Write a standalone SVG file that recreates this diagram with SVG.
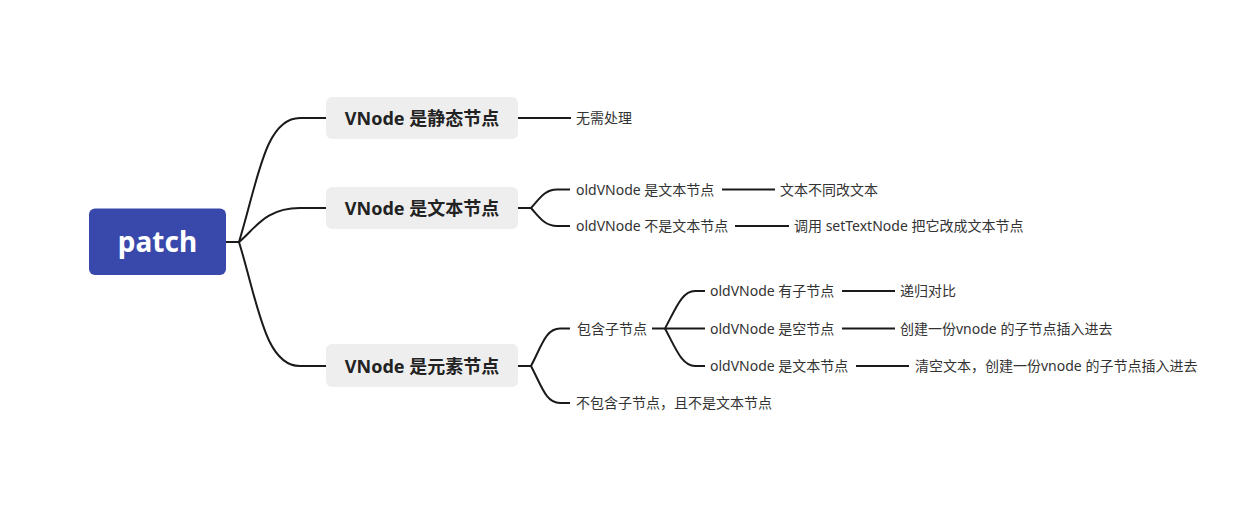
<svg xmlns="http://www.w3.org/2000/svg" width="1234" height="520" viewBox="0 0 1234 520">
<style>
.c{fill:none;stroke:#1a1a1a;stroke-width:2}
.t{font-family:"Noto Sans","Noto Sans CJK SC",sans-serif;font-size:14px;fill:#333}
.b{font-family:"Noto Sans","Noto Sans CJK SC",sans-serif;font-size:18px;font-weight:bold;fill:#222;text-anchor:middle}
.bx{fill:#eeeeee}
</style>
<rect width="1234" height="520" fill="#ffffff"/>
<g id="connectors">
<path class="c" d="M226,242 H239 C258,180 265,118 300,118 H326"/>
<path class="c" d="M239,242 C255,229 265,208 300,208 H326"/>
<path class="c" d="M239,242 C258,304 265,366 300,366 H326"/>
<path class="c" d="M518,118 H571"/>
<path class="c" d="M518,208 H531 C540,198 545,189.5 557,189.5 H570"/>
<path class="c" d="M531,208 C540,218 545,226 557,226 H570"/>
<path class="c" d="M722,189.5 H775"/>
<path class="c" d="M735,226 H789"/>
<path class="c" d="M518,366 H531 C542,345 546,328.5 560,328.5 H570"/>
<path class="c" d="M531,366 C542,387 546,403 560,403 H570"/>
<path class="c" d="M652,328.5 H665 C676,308 682,291 695,291 H705"/>
<path class="c" d="M665,328.5 H705"/>
<path class="c" d="M665,328.5 C676,349 682,366 695,366 H705"/>
<path class="c" d="M842,291 H895"/>
<path class="c" d="M842,328.5 H895"/>
<path class="c" d="M856,366 H909"/>
</g>
<g id="root">
<rect x="89" y="208.5" width="137" height="66.5" rx="6" fill="#3949ab"/>
<text x="157.5" y="252" font-family="'Noto Sans',sans-serif" font-size="28" font-weight="bold" fill="#ffffff" text-anchor="middle">patch</text>
</g>
<g id="n-static">
<rect class="bx" x="326" y="97" width="192" height="42" rx="6"/>
<text class="b" x="422" y="124.5">VNode 是静态节点</text>
</g>
<g id="n-text">
<rect class="bx" x="326" y="187" width="192" height="42" rx="6"/>
<text class="b" x="422" y="214.5">VNode 是文本节点</text>
</g>
<g id="n-elem">
<rect class="bx" x="326" y="344" width="192" height="43" rx="6"/>
<text class="b" x="422" y="372.5">VNode 是元素节点</text>
</g>
<g id="n-noop"><text class="t" x="576" y="123">无需处理</text></g>
<g id="n-old-text"><text class="t" x="576" y="194.5">oldVNode 是文本节点</text></g>
<g id="n-diff-text"><text class="t" x="780" y="194.5">文本不同改文本</text></g>
<g id="n-old-nottext"><text class="t" x="576" y="231">oldVNode 不是文本节点</text></g>
<g id="n-settext"><text class="t" x="794" y="231">调用 setTextNode 把它改成文本节点</text></g>
<g id="n-haschild"><text class="t" x="577" y="333.5">包含子节点</text></g>
<g id="n-nochild"><text class="t" x="576" y="408">不包含子节点，且不是文本节点</text></g>
<g id="n-old-haschild"><text class="t" x="710" y="296">oldVNode 有子节点</text></g>
<g id="n-recurse"><text class="t" x="900" y="296">递归对比</text></g>
<g id="n-old-empty"><text class="t" x="710" y="333.5">oldVNode 是空节点</text></g>
<g id="n-create"><text class="t" x="900" y="333.5">创建一份vnode 的子节点插入进去</text></g>
<g id="n-old-istext"><text class="t" x="710" y="371">oldVNode 是文本节点</text></g>
<g id="n-clear"><text class="t" x="915" y="371">清空文本，创建一份vnode 的子节点插入进去</text></g>
</svg>
